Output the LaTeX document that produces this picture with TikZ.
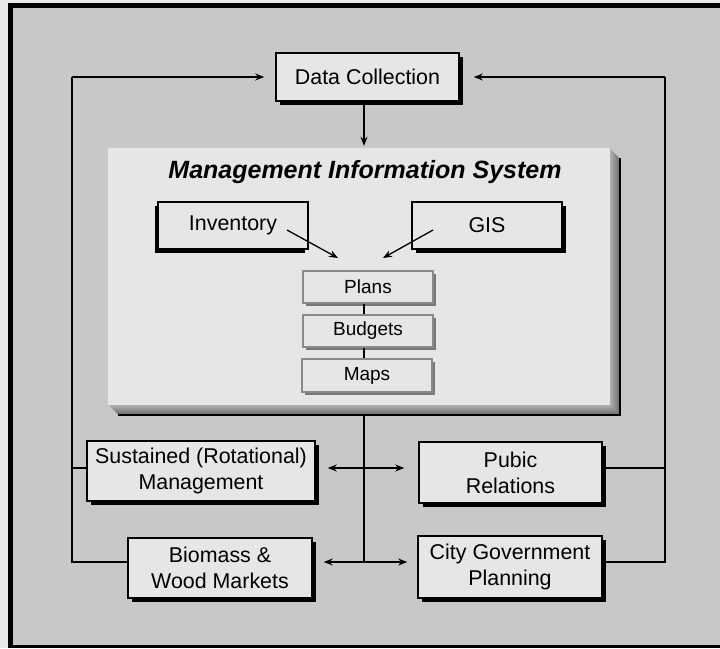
\documentclass[tikz,border=0pt]{standalone}
\usepackage{fontspec}
\setmainfont{Liberation Sans}
\usetikzlibrary{arrows.meta,shadows}
\definecolor{bgout}{HTML}{E8E8E8}
\definecolor{bgin}{HTML}{C8C8C8}
\definecolor{boxfill}{HTML}{E6E6E6}
\definecolor{smallborder}{HTML}{8A8A8A}
\definecolor{smallshadow}{HTML}{787878}
\begin{document}
\begin{tikzpicture}[x=1pt,y=-1pt,
  box/.style={draw=black, line width=1.6pt, fill=boxfill, inner sep=0pt, align=center,
    font=\fontsize{21.4}{26}\selectfont,
    drop shadow={shadow xshift=3.5pt, shadow yshift=-3.5pt, fill=black, opacity=1}},
  leftbox/.style={draw=black, line width=1.6pt, fill=boxfill, inner sep=0pt, align=center,
    font=\fontsize{21.4}{26}\selectfont,
    drop shadow={shadow xshift=-3.5pt, shadow yshift=-3.5pt, fill=black, opacity=1}},
  smallbox/.style={draw=smallborder, line width=1.4pt, fill=boxfill, inner sep=0pt,
    minimum width=130pt, minimum height=32pt, font=\fontsize{19}{22}\selectfont,
    drop shadow={shadow xshift=2.5pt, shadow yshift=-2.5pt, fill=smallshadow, opacity=1}},
  ln/.style={line width=1.3pt, black},
  arr/.style={ln, -{Stealth[length=9pt, width=7pt, inset=3pt]}},
  darr/.style={ln, {Stealth[length=9pt, width=7pt, inset=3pt]}-{Stealth[length=9pt, width=7pt, inset=3pt]}}
]
\useasboundingbox (0,0) rectangle (720,648);
% frame
\fill[bgout] (0,0) rectangle (720,648);
\fill[black] (8,3) rectangle (720,648);
\fill[bgin] (13,8) rectangle (720,645);

% coordinates
\coordinate (lt) at (72,77);
\coordinate (rt) at (665,77);
\coordinate (trunk) at (364,0);
\coordinate (r1) at (0,468);
\coordinate (r2) at (0,562);
\coordinate (lx) at (72,0);
\coordinate (rx) at (665,0);
\coordinate (misb) at (364,410);

% trunk line (under the panel shadow)
\draw[ln] (misb) -- (r2 -| trunk);

% MIS panel shadow
\foreach \i in {10,9,...,1} {
  \pgfmathsetmacro\g{31+2.8*(\i-1)}
  \fill[black!\g] (108+\i,148+\i) rectangle (610+\i,405+\i);
}
\draw[line width=1.2pt] (620,158) -- (620,415) -- (118,415);
\node[fill=boxfill, minimum width=502pt, minimum height=257pt, inner sep=0pt] (mis) at (359,276.5) {};
\node[font=\fontsize{25}{29}\selectfont\bfseries\itshape] (title) at (365,172) {Management Information System};

% nodes
\node[box, minimum width=183pt, minimum height=48pt] (dc) at (367.5,77) {Data Collection};
\node[leftbox, minimum width=150pt, minimum height=47pt] (inv) at (233,225.5) {Inventory};
\node[box, minimum width=150pt, minimum height=47pt] (gis) at (487,225.5) {GIS};
\node[smallbox] (plans) at (368,287) {Plans};
\node[smallbox] (budgets) at (368,331) {Budgets};
\node[smallbox, minimum height=33pt] (maps) at (367,375.5) {Maps};
\node[box, minimum width=228pt, minimum height=60pt] (sus) at (201,471) {Sustained (Rotational)\\Management};
\node[box, minimum width=183pt, minimum height=61pt] (pub) at (510.5,472.5) {Pubic\\Relations};
\node[box, minimum width=184pt, minimum height=60pt] (bio) at (220,568) {Biomass \&\\Wood Markets};
\node[box, minimum width=184pt, minimum height=62pt] (city) at (510,567) {City Government\\Planning};

% connectors inside MIS
\coordinate (invs) at (287,230);
\coordinate (giss) at (433,230);
\coordinate (invt) at (338,258);
\coordinate (gist) at (383,258);
\draw[arr] (invs) -- (invt);
\draw[arr] (giss) -- (gist);
\draw[ln, line width=1.6pt] (plans.south -| trunk) -- (budgets.north -| trunk);
\draw[ln, line width=1.6pt] (budgets.south -| trunk) -- (maps.north -| trunk);

% top arrows
\draw[arr] (lt) -- ([xshift=-11pt]dc.west);
\draw[arr] (rt) -- ([xshift=14pt]dc.east);
\draw[arr] (dc.south -| trunk) -- ([yshift=2pt]mis.north -| trunk);

% loops
\draw[ln] (lt) -- (r2 -| lx) -- (r2 -| bio.west);
\draw[ln] (r1 -| lx) -- (r1 -| sus.west);
\draw[ln] (rt) -- (r2 -| rx) -- (r2 -| city.east);
\draw[ln] (r1 -| rx) -- (r1 -| pub.east);

% middle double arrows
\draw[darr] ([xshift=12pt]r1 -| sus.east) -- ([xshift=-14pt]r1 -| pub.west);
\draw[darr] ([xshift=11pt]r2 -| bio.east) -- ([xshift=-10pt]r2 -| city.west);
\end{tikzpicture}
\end{document}
